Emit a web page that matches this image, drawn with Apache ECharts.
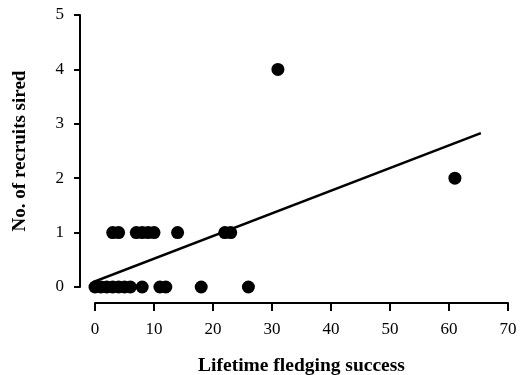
<!DOCTYPE html>
<html>
<head>
<meta charset="utf-8">
<script src="https://cdn.jsdelivr.net/npm/echarts@6/dist/echarts.min.js"></script>
<style>html,body{margin:0;padding:0;background:#fff;}#c{width:521px;height:375px;}</style>
</head>
<body>
<div id="c"></div>
<script>
// Lifetime fledging success (x) vs recruits sired (y)
const pointsX = [0, 1, 2, 3, 4, 5, 6, 8, 11, 12, 18, 26,
                 3, 4, 7, 8, 9, 10, 14, 22, 23,
                 61, 31];
const pointsY = [0, 0, 0, 0, 0, 0, 0, 0, 0, 0, 0, 0,
                 1, 1, 1, 1, 1, 1, 1, 1, 1,
                 2, 4];
const fitX = [-0.8, 65.4];
const fitY = [0.07, 2.83];
const xTicks = [0, 10, 20, 30, 40, 50, 60, 70];
const yTicks = [0, 1, 2, 3, 4, 5];

const font = '"Liberation Serif", "DejaVu Serif", serif';
const chart = echarts.init(document.getElementById('c'));
chart.setOption({
  animation: false,
  backgroundColor: '#fff',
  grid: { left: 95, right: 13, top: 15, bottom: 88, containLabel: false, outerBoundsMode: 'none' },
  xAxis: {
    type: 'value',
    min: xTicks[0], max: xTicks[xTicks.length - 1], interval: 10,
    offset: 16,
    name: 'Lifetime fledging success',
    nameLocation: 'middle',
    nameGap: 53,
    nameTextStyle: { fontFamily: font, fontWeight: 'bold', fontSize: 19.5, color: '#000' },
    axisLine: { onZero: false, lineStyle: { color: '#000', width: 2 } },
    axisTick: { length: 8, lineStyle: { color: '#000', width: 2 } },
    axisLabel: { margin: 18, fontFamily: font, fontSize: 17, color: '#000' },
    splitLine: { show: false }
  },
  yAxis: {
    type: 'value',
    min: yTicks[0], max: yTicks[yTicks.length - 1], interval: 1,
    offset: 15,
    name: 'No. of recruits sired',
    nameLocation: 'middle',
    nameGap: 50,
    nameTextStyle: { fontFamily: font, fontWeight: 'bold', fontSize: 19, color: '#000' },
    axisLine: { show: true, onZero: false, lineStyle: { color: '#000', width: 2 } },
    axisTick: { show: true, length: 6, lineStyle: { color: '#000', width: 2 } },
    axisLabel: { margin: 16, fontFamily: font, fontSize: 17, color: '#000' },
    splitLine: { show: false }
  },
  series: [
    {
      type: 'line',
      data: fitX.map((x, i) => [x, fitY[i]]),
      symbol: 'none',
      clip: false,
      lineStyle: { color: '#000', width: 2.5 },
      z: 3
    },
    {
      type: 'scatter',
      data: pointsX.map((x, i) => [x, pointsY[i]]),
      symbol: 'circle',
      symbolSize: 13,
      clip: false,
      itemStyle: { color: '#000', opacity: 1 },
      z: 4
    }
  ]
});
</script>
</body>
</html>
